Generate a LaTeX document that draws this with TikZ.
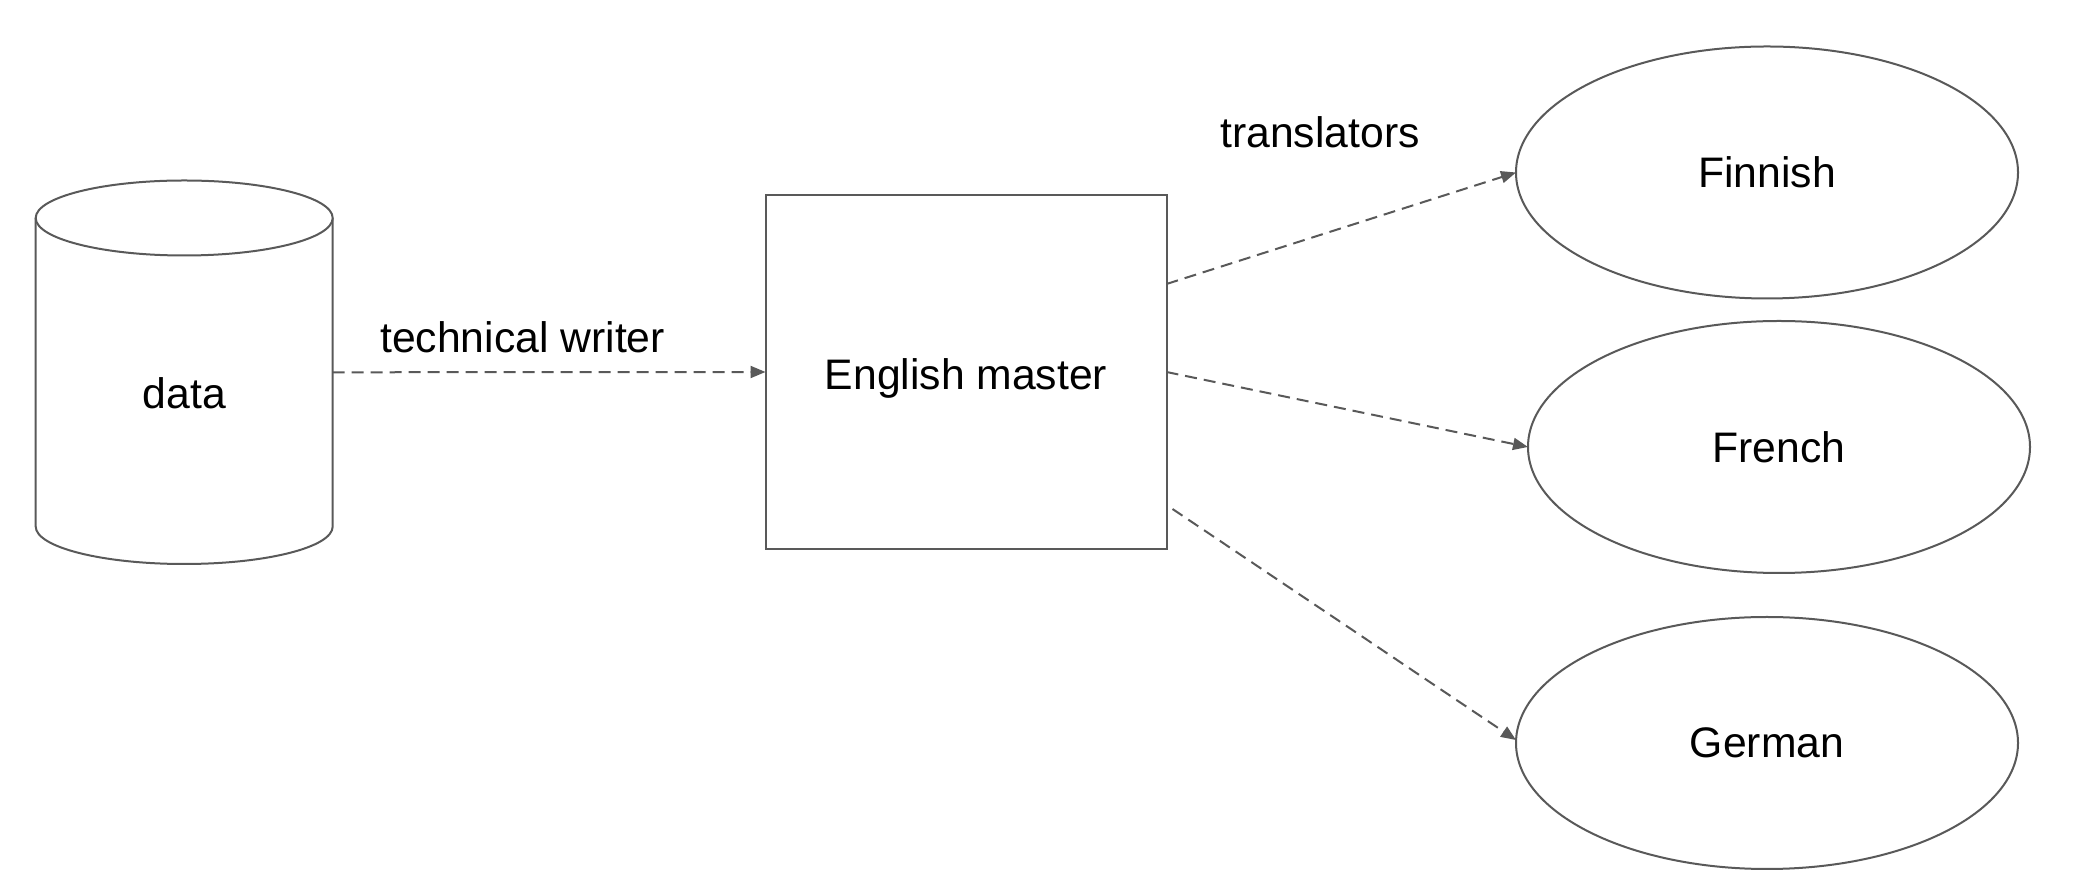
\documentclass[tikz,border=0pt]{standalone}
\usepackage{fontspec}
\setmainfont{Liberation Sans}
\usetikzlibrary{shapes.geometric,arrows.meta}
\definecolor{linegray}{HTML}{595959}
\begin{document}
\begin{tikzpicture}[x=1pt,y=1pt,
  every node/.style={font=\fontsize{42.7}{50}\selectfont, text=black},
  shapeline/.style={draw=linegray, line width=2pt},
  boxnode/.style={shapeline, rectangle, inner sep=0pt, outer sep=0pt, minimum width=401pt, minimum height=354pt},
  langnode/.style={shapeline, ellipse, inner sep=0pt, outer sep=0pt, minimum width=502pt, minimum height=252pt},
  flow/.style={draw=linegray, line width=2pt, dash pattern=on 12pt off 7pt, -{Triangle[length=15pt,width=12pt]}},
  lbl/.style={inner sep=0pt}
]
\useasboundingbox (0,0) rectangle (2080,894);
% cylinder
\draw[shapeline] (35.7,676) -- (35.7,367.5) arc[start angle=180, end angle=360, x radius=148.5pt, y radius=37.5pt] -- (332.7,676);
\draw[shapeline, fill=white] (184.2,676) ellipse [x radius=148.5pt, y radius=37.5pt];
\node[inner sep=0pt, outer sep=0pt, minimum width=297pt, minimum height=383.3pt] (db) at (184.2,521.7) {};
\node[lbl] (dblabel) at (184.2,501) {data};
% master
\node[boxnode] (master) at (966,522) {};
\node[lbl] (masterlabel) at (966,516) {English master};
% languages
\node[langnode] (fi) at (1767,721.5) {\raisebox{-1.5pt}{Finnish}};
\node[langnode] (fr) at (1779,447) {\raisebox{-1.5pt}{French}};
\node[langnode] (de) at (1767,151) {\raisebox{-1.5pt}{German}};
% labels
\node[lbl] (tw) at (522.6,557) {technical writer};
\node[lbl] (tr) at (1320,761.4) {translators};
% connectors
\draw[flow] (db.east) -- (master.west);
\draw[flow] ([yshift=-89pt]master.north east) -- (fi.west);
\draw[flow] (master.east) -- (fr.west);
\draw[flow] ([xshift=6pt,yshift=40pt]master.south east) -- ([yshift=3pt]de.west);
\end{tikzpicture}
\end{document}
